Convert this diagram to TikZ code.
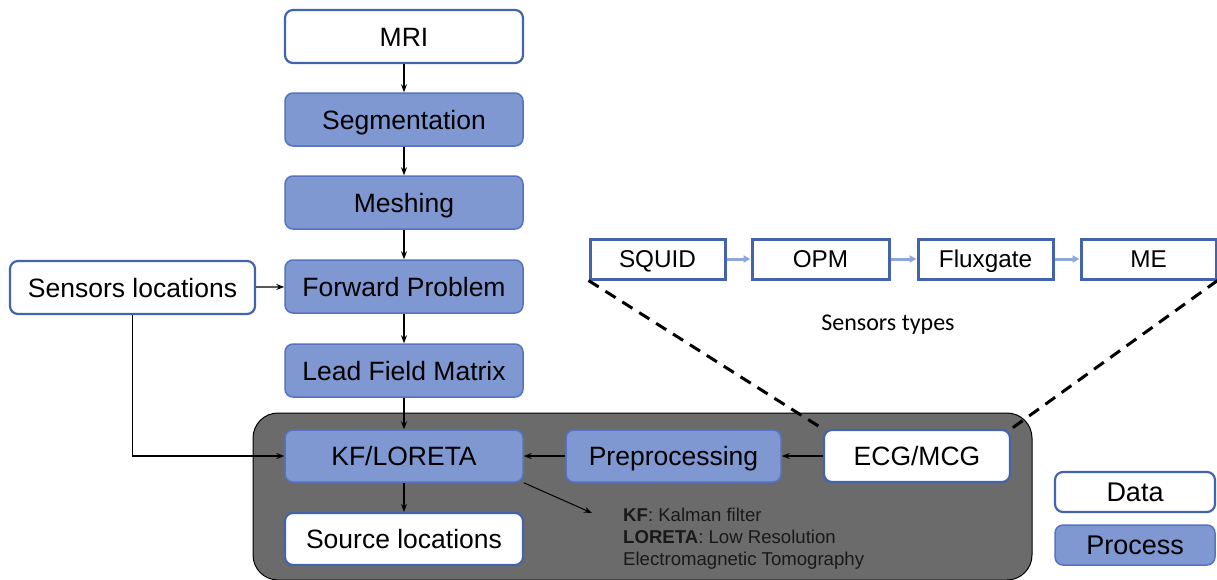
\documentclass[tikz,border=0pt]{standalone}
\usepackage{fontspec}
\setmainfont{Liberation Sans}
\newfontfamily\calibrifont{Carlito}
\usetikzlibrary{arrows.meta}

\definecolor{procblue}{HTML}{7F98D2}
\definecolor{procedge}{HTML}{5573C2}
\definecolor{dataedge}{HTML}{4364AC}
\definecolor{lightarrow}{HTML}{8FA8DA}
\definecolor{panelgray}{HTML}{6B6B6B}

\begin{document}
\begin{tikzpicture}[x=1pt,y=-1pt,
    data/.style={draw=dataedge,line width=2.2pt,fill=white,rounded corners=8pt,
        minimum width=238pt,minimum height=53pt,inner sep=0pt,text height=19pt,text depth=0pt,
        font=\fontsize{26.5}{30}\selectfont},
    proc/.style={data,draw=procedge,line width=1.5pt,fill=procblue},
    legend/.style={minimum width=160pt,minimum height=40pt,text height=19.4pt,
        font=\fontsize{27}{30}\selectfont},
    sensor/.style={draw=dataedge,line width=3pt,fill=white,minimum width=135pt,
        minimum height=40pt,inner sep=0pt,text height=17.5pt,text depth=0pt,
        font=\fontsize{24.3}{28}\selectfont},
    flow/.style={-{Stealth[length=8pt,width=6pt]},line width=1.2pt,black},
    chain/.style={-{Triangle[length=7pt,width=7pt]},line width=3pt,lightarrow},
    link/.style={line width=3pt,dash pattern=on 12pt off 8pt}]
    \useasboundingbox (0,0) rectangle (1217,579);

    % dark panel
    \draw[fill=panelgray,rounded corners=25pt,line width=1pt](253,413) rectangle (1032,580);

    % main chain
    \node[data](mri) at (404,36.5){MRI};
    \node[proc](seg) at (404,119.5){Segmentation};
    \node[proc](mesh) at (404,202.5){Meshing};
    \node[proc](fwd) at (404,286.5){Forward Problem};
    \node[proc](lfm) at (404,370.5){Lead Field Matrix};
    \node[proc,minimum height=52pt](kf) at (404,456){KF/LORETA};
    \node[data,minimum height=52pt](src) at (404,539){Source locations};
    \node[data,minimum width=245pt](sens) at (132.5,287.5){Sensors locations};
    \node[proc,minimum width=215pt,minimum height=52pt](pre) at (673.5,456){Preprocessing};
    \node[data,minimum width=186pt,minimum height=52pt](ecg) at (917,456){ECG/MCG};

    % sensor types
    \node[sensor](squid) at (657.5,259){SQUID};
    \node[sensor,minimum width=137pt](opm) at (820.5,259){OPM};
    \node[sensor](flux) at (985.5,259){Fluxgate};
    \node[sensor](me) at (1148.5,259){ME};
    \node[font=\calibrifont\fontsize{24}{28}\selectfont](types) at (888,325){Sensors types};

    \draw[chain](squid)--(opm);
    \draw[chain](opm)--(flux);
    \draw[chain](flux)--(me);
    \draw[link](squid.south west)--(ecg.north west);
    \draw[link](me.south east)--(ecg.north east);

    % connectors
    \draw[flow](mri)--(seg);
    \draw[flow](seg)--(mesh);
    \draw[flow](mesh)--(fwd);
    \draw[flow](fwd)--(lfm);
    \draw[flow](lfm)--(kf);
    \draw[flow](kf)--(src);
    \draw[flow](sens)--(fwd);
    \draw[flow](sens.south)|-(kf.west);
    \draw[flow](ecg)--(pre);
    \draw[flow](pre)--(kf);

    % abbreviations
    \node[anchor=north west,align=left,inner sep=0pt,text=black!90,
        font=\fontsize{18.6}{22}\selectfont](note) at (623,508)
        {\textbf{KF}: Kalman filter\\\textbf{LORETA}: Low Resolution\\Electromagnetic Tomography};
    \coordinate (notetip) at (592,513);
    \draw[flow,line width=1pt](kf.south east)--(notetip);

    % legend
    \node[data,legend](legdata) at (1135,492){Data};
    \node[proc,legend](legproc) at (1135,545){Process};
\end{tikzpicture}
\end{document}
